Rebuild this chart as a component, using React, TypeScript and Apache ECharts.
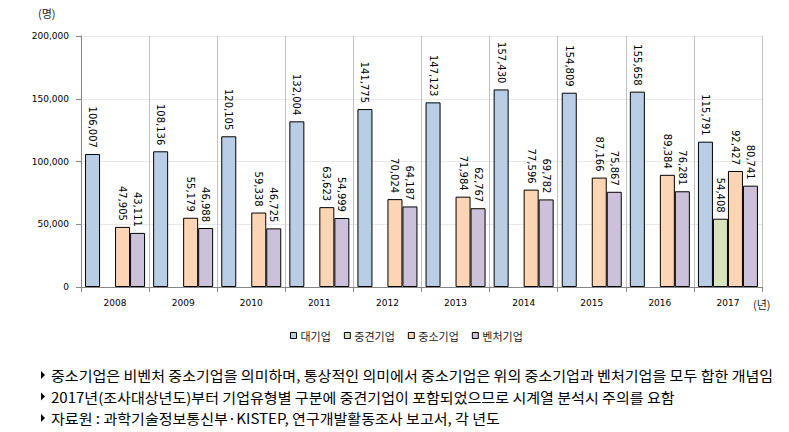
import React, { useEffect, useRef } from "react";
import * as echarts from "echarts";

const years = ["2008", "2009", "2010", "2011", "2012", "2013", "2014", "2015", "2016", "2017"];
const seriesNames = ["대기업", "중견기업", "중소기업", "벤처기업"];
const large = [106007, 108136, 120105, 132004, 141775, 147123, 157430, 154809, 155658, 115791];
const midSize = [null, null, null, null, null, null, null, null, null, 54408];
const small = [47905, 55179, 59338, 63623, 70024, 71984, 77596, 87166, 89384, 92427];
const venture = [43111, 46988, 46725, 54999, 64187, 62767, 69782, 75867, 76281, 80741];
const colors = ["#B9CDE5", "#D7E4BD", "#FCD5B5", "#CCC1DA"];
const notes = [
  "중소기업은 비벤처 중소기업을 의미하며, 통상적인 의미에서 중소기업은 위의 중소기업과 벤처기업을 모두 합한 개념임",
  "2017년(조사대상년도)부터 기업유형별 구분에 중견기업이 포함되었으므로 시계열 분석시 주의를 요함",
  "자료원 : 과학기술정보통신부·KISTEP, 연구개발활동조사 보고서, 각 년도",
];

const fmt = (v: number) => v.toLocaleString("en-US");
const KR = "'Noto Sans CJK KR', sans-serif";
const NUM = "'DejaVu Sans', sans-serif";

export default function App() {
  const ref = useRef<HTMLDivElement>(null);
  useEffect(() => {
    document.body.style.margin = "0";
    if (!ref.current) return;
    const chart = echarts.init(ref.current, null, { renderer: "svg" });
    const data = [large, midSize, small, venture];
    chart.setOption({
      animation: false,
      grid: { left: 81, right: 27, top: 36, bottom: 145 },
      legend: {
        left: 285,
        top: 325,
        itemWidth: 6,
        itemHeight: 6,
        itemGap: 13,
        icon: "rect",
        textStyle: { fontFamily: KR, fontSize: 11, color: "#222", padding: [0, 0, 0, -1] },
        data: seriesNames.map((n) => ({ name: n, itemStyle: { borderColor: "#000", borderWidth: 1 } })),
      },
      xAxis: {
        type: "category",
        data: years,
        boundaryGap: true,
        axisLine: { lineStyle: { color: "#868686" } },
        axisTick: { show: true, length: 5, lineStyle: { color: "#868686" } },
        axisLabel: { fontFamily: NUM, fontSize: 9, color: "#000", margin: 11 },
        splitLine: { show: true, lineStyle: { color: "#c0c0c0" } },
      },
      yAxis: {
        type: "value",
        min: 0,
        max: 200000,
        interval: 50000,
        axisLine: { show: true, lineStyle: { color: "#868686" } },
        axisTick: { show: true, length: 5, lineStyle: { color: "#868686" } },
        axisLabel: { fontFamily: NUM, fontSize: 9, color: "#000", margin: 12, formatter: (v: number) => fmt(v) },
        splitLine: { show: true, lineStyle: { color: "#e8e8e8" } },
      },
      series: seriesNames.map((name, i) => ({
        name,
        type: "bar",
        data: data[i],
        barWidth: 15,
        barGap: "0%",
        itemStyle: { color: colors[i], borderColor: "#000", borderWidth: 1 },
        label: {
          show: true,
          position: "top",
          rotate: -90,
          align: "right",
          verticalAlign: "middle",
          distance: 6,
          fontFamily: NUM,
          fontSize: 10,
          color: "#000",
          formatter: (p: any) => fmt(p.value),
        },
      })),
      graphic: [
        { type: "text", x: 38, y: 13, style: { text: "(명)", fontFamily: KR, fontSize: 11, fill: "#222", verticalAlign: "middle" } },
        { type: "text", x: 753, y: 304, style: { text: "(년)", fontFamily: KR, fontSize: 11, fill: "#222", verticalAlign: "middle" } },
        ...notes.flatMap((t, i) => [
          {
            type: "polygon",
            shape: { points: [[41, 371 + i * 21.5], [41, 379 + i * 21.5], [45, 375 + i * 21.5]] },
            style: { fill: "#000" },
          },
          {
            type: "text",
            x: 51,
            y: 375 + i * 21.5,
            scaleX: 1.075,
            style: { text: t, fontFamily: KR, fontSize: 14, fill: "#000", verticalAlign: "middle" },
          },
        ]),
      ],
    });
    return () => chart.dispose();
  }, []);
  return <div ref={ref} style={{ width: 789, height: 432 }} />;
}
